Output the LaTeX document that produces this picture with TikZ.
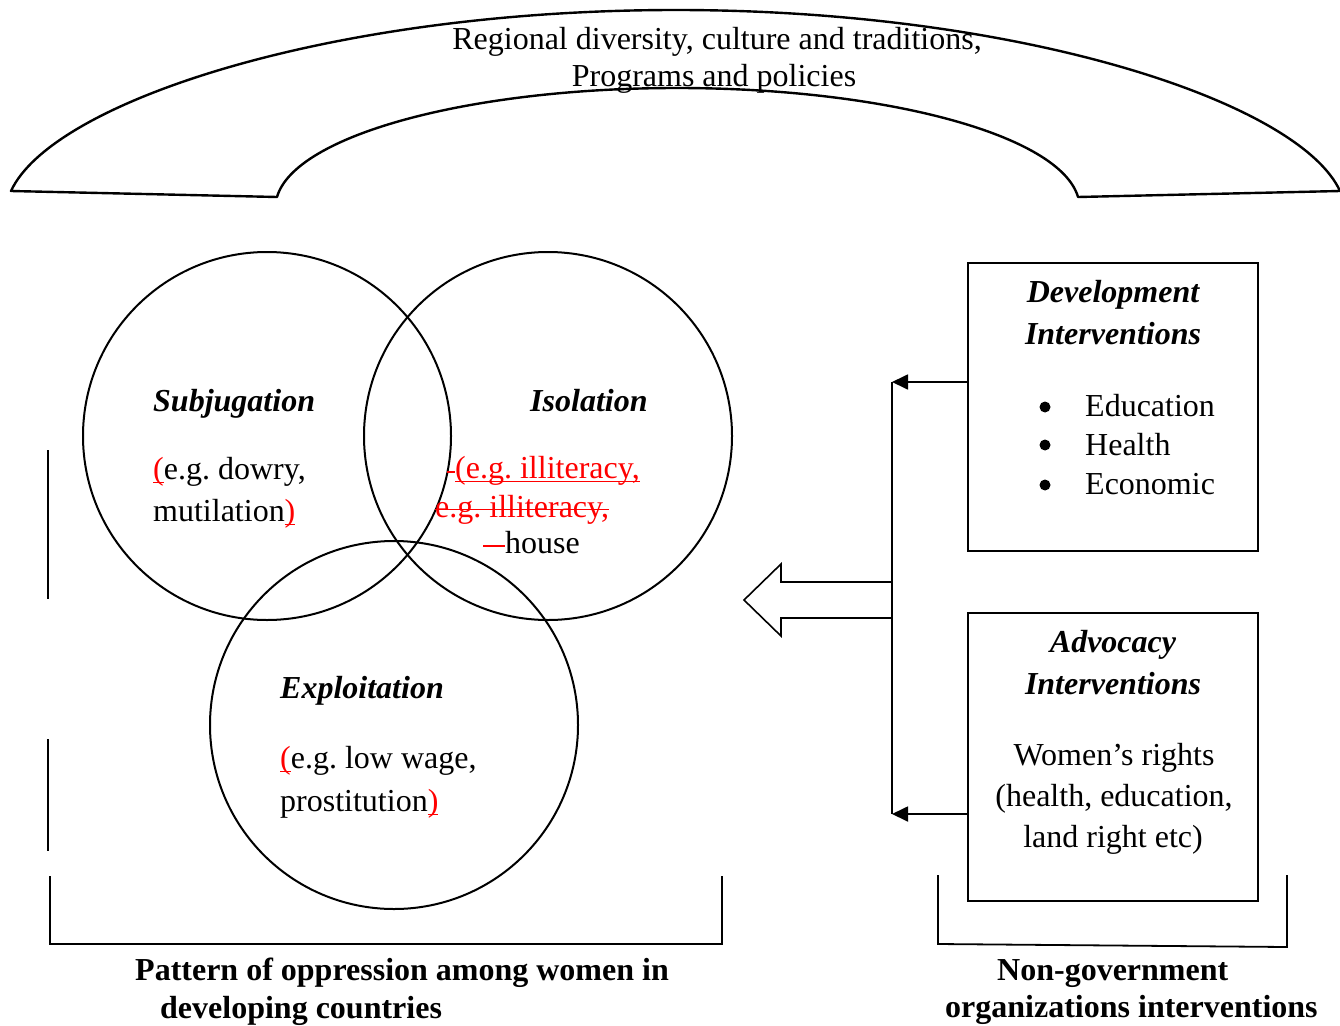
\documentclass[tikz,border=0pt]{standalone}
\usepackage{fontspec}
\setmainfont{Liberation Serif}
\usetikzlibrary{arrows.meta}
\frenchspacing
% red underline / strike-through marks of tracked edits
\newcommand\ulred[1]{\setbox0\hbox{#1}\rlap{\color{red}\rule[-4pt]{\wd0}{1.4pt}}{\color{red}#1}}
\newcommand\sored[1]{\setbox0\hbox{#1}\rlap{\color{red}\rule[7pt]{\wd0}{1.4pt}}{\color{red}#1}}
\newcommand\redbar[2]{{\color{red}\rule[#2]{#1}{1.6pt}}}

\begin{document}
\begin{tikzpicture}[x=1pt,y=-1pt,
  txt/.style={inner sep=0pt, font=\fontsize{32}{38}\selectfont},
  lbl/.style={txt, anchor=base west},
  ctr/.style={txt, anchor=base},
  head/.style={ctr, font=\fontsize{32}{38}\selectfont\bfseries\itshape},
  headl/.style={lbl, font=\fontsize{32}{38}\selectfont\bfseries\itshape},
  caption/.style={lbl, font=\fontsize{32}{38}\selectfont\bfseries},
  line/.style={line width=1.8pt},
  ring/.style={circle, draw, line width=2pt, inner sep=0pt, minimum size=368pt},
  panel/.style={draw, line width=1.8pt, inner sep=0pt, minimum width=290pt, minimum height=288pt},
  dot/.style={circle, fill, inner sep=0pt, minimum size=11pt},
  tip/.style={line width=1.8pt, -{Triangle[length=16pt,width=15pt]}}
]
\useasboundingbox (0,0) rectangle (1340,1025);

% ---- overarching context band ----
\draw[line width=2.4pt, line join=round]
  (11,191) .. controls (52,102) and (330,10) .. (676,10)
           .. controls (1021,10) and (1299,102) .. (1340,191)
  -- (1078,197)
           .. controls (1060,135) and (885,88) .. (677,88)
           .. controls (470,88) and (295,135) .. (277,197)
  -- cycle;
\node[ctr] (ctx1) at (717,49) {Regional diversity, culture and traditions,};
\node[ctr] (ctx2) at (714,86) {Programs and policies};

% ---- three overlapping circles ----
\node[ring] (subj) at (267,436) {};
\node[ring] (isol) at (548,436) {};
\node[ring] (expl) at (394,725) {};

\node[headl] (subjT) at (153,411) {Subjugation};
\node[lbl] (subj1) at (153,479) {\ulred{(}e.g. dowry,};
\node[lbl] (subj2) at (153,521) {mutilation\ulred{)}};

\node[headl] (isolT) at (530,411) {Isolation};
\node[lbl] (isol1) at (447,478) {\redbar{8pt}{5pt}\ulred{(e.g. illiteracy,}};
\node[lbl] (isol2) at (435,517) {\sored{e.g. illiteracy,}};
\node[lbl] (isol3) at (483,553) {\redbar{22pt}{6pt}house};

\node[headl] (explT) at (280,698) {Exploitation};
\node[lbl] (expl1) at (280,768) {\ulred{(}e.g. low wage,};
\node[lbl] (expl2) at (280,811) {prostitution\ulred{)}};

% ---- intervention panels ----
\node[panel] (dev) at (1113,407) {};
\node[head] (devT1) at (1113,302) {Development};
\node[head] (devT2) at (1113,344) {Interventions};
\node[dot] (b1) at (1045,407) {};
\node[dot] (b2) at (1045,445) {};
\node[dot] (b3) at (1045,485) {};
\node[lbl] (edu) at (1085,416) {Education};
\node[lbl] (hea) at (1085,455) {Health};
\node[lbl] (eco) at (1085,494) {Economic};

\node[panel] (adv) at (1113,757) {};
\node[head] (advT1) at (1113,652) {Advocacy};
\node[head] (advT2) at (1113,694) {Interventions};
\node[ctr] (adv1) at (1114,765) {Women’s rights};
\node[ctr] (adv2) at (1114,806) {(health, education,};
\node[ctr] (adv3) at (1113,847) {land right etc)};

% ---- connectors into the hub ----
\coordinate (hubT) at (892,382);
\coordinate (hubB) at (892,814);
\draw[line] (hubT) -- (hubB);
\draw[tip] (dev.west |- hubT) -- (hubT);
\draw[tip] (adv.west |- hubB) -- (hubB);

% hollow block arrow towards the circles
\draw[line width=1.6pt, line join=miter]
  (892,582) -- (781,582) -- (781,564) -- (744,600) -- (781,636) -- (781,618) -- (892,618);

% ---- brackets ----
\draw[line width=2pt] (48,450) -- (48,599);
\draw[line width=2pt] (48,739) -- (48,851);
\draw[line] (50,876) -- (50,944) -- (722,944) -- (722,876);
\draw[line] (938,875) -- (938,944) -- (1287,947) -- (1287,875);

\node[caption] (cap1a) at (135,980) {Pattern of oppression among women in};
\node[caption] (cap1b) at (160,1018) {developing countries};
\node[caption] (cap2a) at (997,980) {Non-government};
\node[caption] (cap2b) at (945,1017) {organizations interventions};
\end{tikzpicture}
\end{document}
